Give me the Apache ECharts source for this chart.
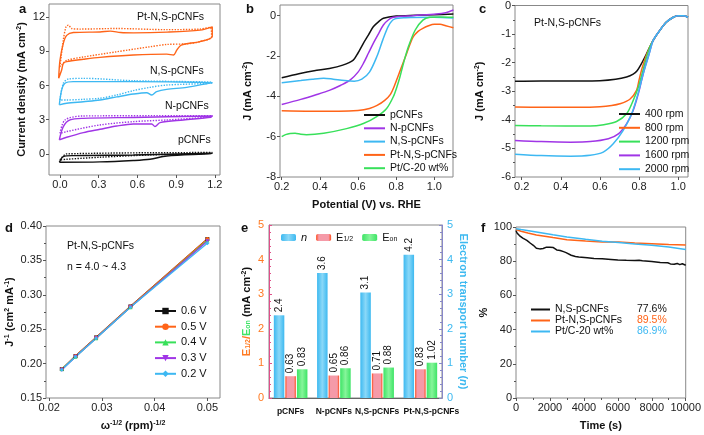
<!DOCTYPE html>
<html>
<head>
<meta charset="utf-8">
<script src="https://cdn.jsdelivr.net/npm/echarts@6/dist/echarts.min.js"></script>
<style>
html, body { margin: 0; padding: 0; background: #fff; }
#chart { width: 704px; height: 435px; }
</style>
</head>
<body>
<div id="chart"></div>
<script>
var cBlack = '#111111', cOrange = '#FF6418', cBlue = '#3DB8F2', cPurple = '#A035E6', cGreen = '#38E05A';
var font = 'Arial, "Liberation Sans", sans-serif';

// a: CV loops [potential (V), current density (mA cm-2)]
var cvPtSolid = [[-0.01,6.63],[0.0,8.2],[0.026,9.7],[0.052,10.4],[0.103,10.65],[0.31,10.7],[0.39,10.77],[0.47,10.65],[0.57,10.62],[0.83,10.68],[1.085,10.86],[1.18,11.15],[1.18,10.3],[1.085,9.85],[0.94,9.55],[0.905,9.1],[0.88,8.68],[0.827,8.75],[0.568,8.67],[0.31,8.47],[0.181,8.3],[0.052,8.1],[0.026,7.95],[0.013,7.36],[-0.01,6.63]];
var cvPtDotted = [[0.0,7.65],[0.026,10.0],[0.047,11.15],[0.065,11.3],[0.09,11.0],[0.155,10.95],[0.44,11.0],[0.827,10.9],[1.085,10.95],[1.165,11.1],[1.175,10.28],[1.085,9.85],[0.982,9.66],[0.827,9.6],[0.698,9.4],[0.44,8.96],[0.181,8.5],[0.052,8.2],[0.013,7.8],[0.0,7.65]];
var cvNSSolid = [[-0.005,4.3],[0.013,5.6],[0.039,6.2],[0.103,6.34],[0.568,6.34],[1.18,6.25],[1.16,6.22],[0.982,5.84],[0.827,5.66],[0.749,5.46],[0.711,5.17],[0.672,5.37],[0.568,5.25],[0.44,5.0],[0.31,4.73],[0.181,4.58],[0.052,4.44],[-0.005,4.3]];
var cvNSDotted = [[0.0,4.73],[0.026,6.2],[0.065,6.57],[0.181,6.63],[0.568,6.42],[1.18,6.28],[1.17,6.2],[0.827,6.04],[0.698,5.84],[0.568,5.55],[0.44,5.17],[0.31,4.88],[0.181,4.79],[0.052,4.73],[0.0,4.73]];
var cvNSolid = [[-0.005,1.23],[0.026,2.4],[0.078,2.98],[0.181,3.12],[0.568,3.2],[1.18,3.33],[1.17,3.22],[0.956,2.98],[0.775,2.74],[0.736,2.4],[0.711,2.63],[0.568,2.63],[0.44,2.45],[0.31,2.16],[0.181,1.87],[0.052,1.46],[-0.005,1.23]];
var cvNDotted = [[0.0,1.8],[0.039,2.98],[0.181,3.33],[1.18,3.36],[1.17,3.25],[0.827,2.98],[0.568,2.83],[0.31,2.54],[0.052,1.96],[0.0,1.8]];
var cvPSolid = [[-0.005,-0.73],[0.026,-0.23],[0.103,-0.15],[0.568,-0.09],[1.18,0.06],[1.17,0.0],[0.827,-0.18],[0.698,-0.47],[0.568,-0.58],[0.31,-0.7],[-0.005,-0.73]];
var cvPDotted = [[0.0,-0.53],[0.052,0.0],[1.18,0.12],[1.17,0.06],[0.698,-0.09],[0.31,-0.29],[0.052,-0.47],[0.0,-0.53]];
var cvTicksX = [0, 0.3, 0.6, 0.9, 1.2];
var cvTicksY = [0, 3, 6, 9, 12];

// b: LSV curves [potential (V), J]
var lsvNames = ['pCNFs', 'N-pCNFs', 'N,S-pCNFs', 'Pt-N,S-pCNFs', 'Pt/C-20 wt%'];
var lsvP = [[0.2,-3.08],[0.29,-2.88],[0.37,-2.73],[0.45,-2.62],[0.52,-2.45],[0.575,-2.2],[0.6,-1.85],[0.628,-1.37],[0.655,-0.95],[0.68,-0.55],[0.71,-0.28],[0.733,-0.13],[0.8,-0.02],[0.9,0.02],[1.0,0.05],[1.1,0.08]];
var lsvN = [[0.2,-4.4],[0.3,-4.15],[0.38,-3.92],[0.453,-3.69],[0.51,-3.45],[0.558,-3.2],[0.6,-2.8],[0.628,-2.37],[0.655,-1.85],[0.68,-1.37],[0.71,-0.85],[0.733,-0.46],[0.76,-0.2],[0.785,-0.08],[0.89,0.0],[1.01,0.08],[1.06,0.15],[1.1,0.28]];
var lsvNS = [[0.2,-3.33],[0.3,-3.22],[0.36,-3.15],[0.42,-3.1],[0.47,-3.15],[0.53,-3.22],[0.58,-3.25],[0.62,-3.15],[0.66,-2.8],[0.7,-2.0],[0.73,-1.2],[0.76,-0.5],[0.79,-0.17],[0.85,-0.1],[1.0,-0.08],[1.1,-0.12]];
var lsvPt = [[0.2,-4.72],[0.35,-4.74],[0.5,-4.74],[0.6,-4.7],[0.66,-4.6],[0.7,-4.45],[0.74,-4.2],[0.77,-3.9],[0.79,-3.5],[0.81,-3.0],[0.83,-2.5],[0.855,-1.87],[0.875,-1.35],[0.89,-1.04],[0.915,-0.78],[0.94,-0.63],[0.97,-0.5],[1.0,-0.43],[1.03,-0.43],[1.06,-0.5],[1.1,-0.6]];
var lsvPtC = [[0.2,-6.0],[0.22,-5.9],[0.244,-5.84],[0.27,-5.83],[0.3,-5.88],[0.33,-5.9],[0.42,-5.83],[0.54,-5.6],[0.628,-5.35],[0.698,-5.0],[0.75,-4.6],[0.785,-4.02],[0.805,-3.5],[0.82,-3.03],[0.838,-2.37],[0.864,-1.54],[0.9,-0.71],[0.94,-0.22],[0.977,-0.08],[1.03,-0.06],[1.1,-0.08]];
var lsvTicksX = [0.2, 0.4, 0.6, 0.8, 1.0];
var lsvTicksY = [-8, -6, -4, -2, 0];

// c: rotating speeds
var rpmNames = ['400 rpm', '800 rpm', '1200 rpm', '1600 rpm', '2000 rpm'];
var rpmTail = [[0.872,-1.22],[0.906,-0.87],[0.94,-0.58],[0.975,-0.41],[1.0,-0.36],[1.026,-0.36],[1.05,-0.41]];
var rpm400 = [[0.166,-2.65],[0.3,-2.64],[0.5,-2.64],[0.6,-2.63],[0.68,-2.58],[0.736,-2.5],[0.77,-2.4],[0.79,-2.28],[0.81,-2.06],[0.838,-1.69]];
var rpm800 = [[0.166,-3.55],[0.3,-3.56],[0.5,-3.56],[0.6,-3.54],[0.66,-3.5],[0.702,-3.44],[0.753,-3.28],[0.787,-2.97],[0.80,-2.6],[0.815,-2.2],[0.838,-1.72]];
var rpm1200 = [[0.166,-4.2],[0.3,-4.21],[0.55,-4.22],[0.62,-4.17],[0.685,-4.06],[0.736,-3.79],[0.77,-3.32],[0.796,-2.86],[0.813,-2.45],[0.838,-1.8],[0.855,-1.45]];
var rpm1600 = [[0.166,-4.72],[0.3,-4.76],[0.45,-4.78],[0.55,-4.76],[0.643,-4.66],[0.694,-4.49],[0.736,-4.14],[0.77,-3.67],[0.796,-3.09],[0.813,-2.62],[0.83,-2.16],[0.855,-1.6]];
var rpm2000 = [[0.166,-5.2],[0.3,-5.25],[0.45,-5.27],[0.55,-5.24],[0.617,-5.13],[0.668,-4.84],[0.719,-4.37],[0.762,-3.79],[0.796,-3.05],[0.821,-2.39],[0.847,-1.81]];
var rpmTicksX = [0.2, 0.4, 0.6, 0.8, 1.0];
var rpmTicksY = [-6, -5, -4, -3, -2, -1, 0];

// d: Koutecky-Levich
var klNames = ['0.6 V', '0.5 V', '0.4 V', '0.3 V', '0.2 V'];
var klX = [0.0224, 0.025, 0.0289, 0.0354, 0.05];
var kl06 = [0.192, 0.211, 0.238, 0.283, 0.381];
var kl05 = [0.192, 0.211, 0.238, 0.283, 0.381];
var kl04 = [0.192, 0.210, 0.237, 0.282, 0.379];
var kl03 = [0.191, 0.210, 0.237, 0.282, 0.378];
var kl02 = [0.191, 0.210, 0.237, 0.282, 0.375];
var klTicksX = [0.02, 0.03, 0.04, 0.05];
var klTicksY = [0.15, 0.20, 0.25, 0.30, 0.35, 0.40];

// e: bars
var catalysts = ['pCNFs', 'N-pCNFs', 'N,S-pCNFs', 'Pt-N,S-pCNFs'];
var nValues = [2.39, 3.61, 3.05, 4.14];
var nLabels = ['2.4', '3.6', '3.1', '4.2'];
var eHalf = [0.63, 0.65, 0.71, 0.83];
var eOnset = [0.83, 0.86, 0.88, 1.02];

// f: stability
var stabNames = ['N,S-pCNFs', 'Pt-N,S-pCNFs', 'Pt/C-20 wt%'];
var stabRetention = ['77.6%', '89.5%', '86.9%'];
var stabNS = [[0,98],[60,96.5],[200,95],[400,93.5],[640,92.2],[850,90.5],[1020,89.3],[1200,87.6],[1400,87.2],[1600,87.4],[1800,88.2],[2000,88.1],[2200,88.0],[2400,86.6],[2600,86.3],[2800,85.6],[2950,85],[3250,83.5],[3500,82.8],[3700,82.5],[4200,82.0],[4600,81.6],[5080,81.4],[5600,81.0],[6000,80.7],[6500,80.5],[7000,80.4],[7250,80.6],[7340,81.6],[7450,80.3],[8000,79.8],[8500,79.3],[8940,79.1],[9100,78.4],[9200,79.0],[9320,78.2],[9500,78.7],[9650,78.0],[9800,78.5],[10000,77.6]];
var stabPt = [[0,98.5],[300,97.5],[700,96.5],[1200,95.3],[2180,93.8],[3000,92.6],[4100,91.8],[5080,91.3],[6040,91.3],[7000,90.6],[8000,90.2],[9000,89.7],[10000,89.5]];
var stabPtC = [[0,99],[300,98.5],[1200,97.1],[2180,95.5],[3000,94.2],[4100,92.8],[5080,91.7],[6040,90.9],[7000,90.1],[8000,89.3],[9000,88.3],[10000,86.9]];
var stabTicksX = [0, 2000, 4000, 6000, 8000, 10000];
var stabTicksY = [0, 20, 40, 60, 80, 100];

var supRich = {
  sup: { fontSize: 7, fontWeight: 'bold', fontFamily: font, color: '#111', verticalAlign: 'top', lineHeight: 8 }
};
function nameStyle(extraRich) {
  return { fontSize: 11, fontWeight: 'bold', color: '#111', fontFamily: font, rich: Object.assign({}, supRich, extraRich || {}) };
}

// axis whose range is wider than its ticks: ticks given explicitly
function valueAxis(grid, min, max, ticks, digits, extra) {
  var ax = {
    type: 'value', gridIndex: grid, min: min, max: max,
    axisLine: { show: false, onZero: false },
    splitLine: { show: false },
    axisTick: { show: true, customValues: ticks, length: 3, lineStyle: { color: '#555' } },
    axisLabel: {
      customValues: ticks, fontSize: 11, color: '#222', fontFamily: font, margin: 4,
      formatter: function (v) { return digits == null ? String(v) : v.toFixed(digits); }
    }
  };
  return Object.assign(ax, extra || {});
}

// axis whose range ends on its first and last tick
function stepAxis(grid, ticks, digits, extra) {
  var ax = {
    type: 'value', gridIndex: grid, min: ticks[0], max: ticks[ticks.length - 1], interval: ticks[1] - ticks[0],
    axisLine: { show: false, onZero: false },
    splitLine: { show: false },
    axisTick: { show: true, length: 3, lineStyle: { color: '#555' } },
    minorTick: { show: true, splitNumber: 2, length: 2, lineStyle: { color: '#555' } },
    axisLabel: {
      fontSize: 11, color: '#222', fontFamily: font, margin: 4,
      formatter: function (v) { return v.toFixed(digits); }
    }
  };
  return Object.assign(ax, extra || {});
}

function lineSeries(name, x, y, data, color, dotted, width) {
  return {
    name: name, type: 'line', xAxisIndex: x, yAxisIndex: y, data: data,
    symbol: 'none', smooth: 0.3, animation: false,
    lineStyle: { color: color, width: width || 1.5, type: dotted ? 'dotted' : 'solid' },
    itemStyle: { color: color }
  };
}

function pairs(xs, ys) {
  return xs.map(function (v, i) { return [v, ys[i]]; });
}

function barGradient(edge, mid) {
  return new echarts.graphic.LinearGradient(0, 0, 1, 0, [
    { offset: 0, color: edge }, { offset: 0.5, color: mid }, { offset: 1, color: edge }
  ]);
}

var chart = echarts.init(document.getElementById('chart'));

var series = [
  lineSeries('a1', 0, 0, cvPtSolid, cOrange, false, 1.4),
  lineSeries('a2', 0, 0, cvPtDotted, cOrange, true, 1.4),
  lineSeries('a3', 0, 0, cvNSSolid, cBlue, false, 1.4),
  lineSeries('a4', 0, 0, cvNSDotted, cBlue, true, 1.4),
  lineSeries('a5', 0, 0, cvNSolid, cPurple, false, 1.4),
  lineSeries('a6', 0, 0, cvNDotted, cPurple, true, 1.4),
  lineSeries('a7', 0, 0, cvPSolid, cBlack, false, 1.4),
  lineSeries('a8', 0, 0, cvPDotted, cBlack, true, 1.4),

  lineSeries(lsvNames[0], 1, 1, lsvP, cBlack),
  lineSeries(lsvNames[1], 1, 1, lsvN, cPurple),
  lineSeries(lsvNames[2], 1, 1, lsvNS, cBlue),
  lineSeries(lsvNames[3], 1, 1, lsvPt, cOrange),
  lineSeries(lsvNames[4], 1, 1, lsvPtC, cGreen),

  lineSeries(rpmNames[0], 2, 2, rpm400.concat(rpmTail), cBlack),
  lineSeries(rpmNames[1], 2, 2, rpm800.concat(rpmTail), cOrange),
  lineSeries(rpmNames[2], 2, 2, rpm1200.concat(rpmTail), cGreen),
  lineSeries(rpmNames[3], 2, 2, rpm1600.concat(rpmTail), cPurple),
  lineSeries(rpmNames[4], 2, 2, rpm2000.concat(rpmTail), cBlue)
];

var klSets = [kl06, kl05, kl04, kl03, kl02];
var klColors = [cBlack, cOrange, cGreen, cPurple, cBlue];
var klSymbols = ['rect', 'circle', 'triangle', 'triangle', 'diamond'];
klSets.forEach(function (ys, i) {
  series.push({
    name: klNames[i], type: 'line', xAxisIndex: 3, yAxisIndex: 3, data: pairs(klX, ys),
    symbol: klSymbols[i], symbolSize: 4, symbolRotate: i === 3 ? 180 : 0, animation: false,
    lineStyle: { color: klColors[i], width: 1.3 }, itemStyle: { color: klColors[i] }
  });
});

var labelTop = { show: true, position: 'top', rotate: 90, align: 'left', verticalAlign: 'middle', distance: 3, fontSize: 10, color: '#111', fontFamily: font };
series.push({
  name: 'n', type: 'bar', xAxisIndex: 4, yAxisIndex: 5, data: nValues, barWidth: 10.5, barGap: '10%', animation: false,
  itemStyle: { color: barGradient('#3DB9F0', '#8AD8F8') },
  label: Object.assign({}, labelTop, { formatter: function (p) { return nLabels[p.dataIndex]; } })
});
series.push({
  name: 'E12', type: 'bar', xAxisIndex: 4, yAxisIndex: 4, data: eHalf, barWidth: 10.5, barGap: '10%', animation: false,
  itemStyle: { color: new echarts.graphic.LinearGradient(0, 0, 1, 0, [
    { offset: 0, color: '#FF4A1A' }, { offset: 0.18, color: '#F59AA8' }, { offset: 0.82, color: '#F59AA8' }, { offset: 1, color: '#FF4A1A' }
  ]) },
  label: Object.assign({}, labelTop, { formatter: function (p) { return p.value.toFixed(2); } })
});
series.push({
  name: 'Eon', type: 'bar', xAxisIndex: 4, yAxisIndex: 4, data: eOnset, barWidth: 10.5, barGap: '10%', animation: false,
  itemStyle: { color: barGradient('#3EE466', '#86F59A') },
  label: Object.assign({}, labelTop, { formatter: function (p) { return p.value.toFixed(2); } })
});

var stabSets = [stabNS, stabPt, stabPtC];
var stabColors = [cBlack, cOrange, cBlue];
stabSets.forEach(function (d, i) {
  var s = lineSeries('f:' + stabNames[i], 5, 6, d, stabColors[i], false, 1.5);
  s.smooth = false;
  series.push(s);
});

var legendText = { fontSize: 10.5, color: '#111', fontFamily: font };

var option = {
  backgroundColor: '#fff',
  animation: false,
  textStyle: { fontFamily: font },
  grid: [
    { left: 49, top: 4, width: 171, height: 171 },
    { left: 280, top: 5, width: 173, height: 172 },
    { left: 515, top: 5, width: 173, height: 172 },
    { left: 46, top: 226, width: 174, height: 172 },
    { left: 269, top: 225, width: 173, height: 173 },
    { left: 516, top: 227, width: 172, height: 171 }
  ].map(function (g) { return Object.assign(g, { show: true, borderColor: '#888', borderWidth: 1, backgroundColor: 'transparent' }); }),
  xAxis: [
    valueAxis(0, -0.085, 1.24, cvTicksX, 1),
    valueAxis(1, 0.191, 1.098, lsvTicksX, 1, {
      name: 'Potential (V) vs. RHE', nameLocation: 'middle', nameGap: 22, nameTextStyle: nameStyle()
    }),
    valueAxis(2, 0.166, 1.05, rpmTicksX, 1),
    valueAxis(3, 0.0194, 0.0524, klTicksX, 2, {
      name: 'ω{sup|-1/2} (rpm){sup|-1/2}', nameLocation: 'middle', nameGap: 22, nameTextStyle: nameStyle()
    }),
    {
      type: 'category', gridIndex: 4, data: catalysts,
      axisLine: { show: true, lineStyle: { color: '#666' } }, axisTick: { show: false },
      axisLabel: {
        interval: 0, fontSize: 8.5, fontWeight: 'bold', color: '#111', fontFamily: font, margin: 9,
        formatter: function (v, i) { return i === catalysts.length - 1 ? '{sh|' + v + '}' : v; },
        rich: { sh: { fontSize: 8.5, fontWeight: 'bold', color: '#111', fontFamily: font, padding: [0, 0, 0, 22] } }
      }
    },
    stepAxis(5, stabTicksX, 0, {
      name: 'Time (s)', nameLocation: 'middle', nameGap: 22, nameTextStyle: nameStyle()
    })
  ],
  yAxis: [
    valueAxis(0, -1.85, 13.15, cvTicksY, 0, {
      name: 'Current density (mA cm{sup|-2})', nameLocation: 'middle', nameRotate: 90, nameGap: 22, nameTextStyle: nameStyle()
    }),
    valueAxis(1, -8, 0.53, lsvTicksY, 0, {
      name: 'J (mA cm{sup|-2})', nameLocation: 'middle', nameRotate: 90, nameGap: 27, nameTextStyle: nameStyle()
    }),
    stepAxis(2, rpmTicksY, 0, {
      name: 'J (mA cm{sup|-2})', nameLocation: 'middle', nameRotate: 90, nameGap: 30, nameTextStyle: nameStyle()
    }),
    stepAxis(3, klTicksY, 2, {
      name: 'J{sup|-1} (cm{sup|2} mA{sup|-1})', nameLocation: 'middle', nameRotate: 90, nameGap: 31, nameTextStyle: nameStyle()
    }),
    {
      type: 'value', gridIndex: 4, min: 0, max: 5, interval: 1, position: 'left',
      axisLine: { show: true, onZero: false, lineStyle: { color: '#E0508A' } },
      axisTick: { show: true, inside: true, length: 3, lineStyle: { color: '#E0508A' } },
      minorTick: { show: true, splitNumber: 5, length: 2, lineStyle: { color: '#E0508A' } },
      splitLine: { show: false },
      axisLabel: { fontSize: 11, color: '#FF7A22', fontFamily: font, margin: 5 },
      name: '{o|E}{os|1/2}{o|/}{g|E}{gs|on}{k| (mA cm}{ks|-2}{k|)}', nameLocation: 'middle', nameRotate: 90, nameGap: 17,
      nameTextStyle: {
        fontSize: 11, fontWeight: 'bold', fontFamily: font,
        rich: {
          o: { fontSize: 11, fontWeight: 'bold', color: '#FF7A22', fontFamily: font },
          os: { fontSize: 7, fontWeight: 'bold', color: '#FF7A22', fontFamily: font, verticalAlign: 'bottom' },
          g: { fontSize: 11, fontWeight: 'bold', color: '#3EE466', fontFamily: font },
          gs: { fontSize: 7, fontWeight: 'bold', color: '#3EE466', fontFamily: font, verticalAlign: 'bottom' },
          k: { fontSize: 11, fontWeight: 'bold', color: '#111', fontFamily: font },
          ks: { fontSize: 7, fontWeight: 'bold', color: '#111', fontFamily: font, verticalAlign: 'top' }
        }
      }
    },
    {
      type: 'value', gridIndex: 4, min: 0, max: 5, interval: 1, position: 'right',
      axisLine: { show: true, onZero: false, lineStyle: { color: '#8888C8' } },
      axisTick: { show: true, inside: true, length: 3, lineStyle: { color: '#8888C8' } },
      minorTick: { show: true, splitNumber: 5, length: 2, lineStyle: { color: '#8888C8' } },
      splitLine: { show: false },
      axisLabel: { fontSize: 11, color: '#3DB9F0', fontFamily: font, margin: 5 },
      name: 'Electron transport number ({i|n})', nameLocation: 'middle', nameRotate: -90, nameGap: 16,
      nameTextStyle: {
        fontSize: 11, fontWeight: 'bold', color: '#3DB9F0', fontFamily: font,
        rich: { i: { fontSize: 11, fontWeight: 'bold', fontStyle: 'italic', color: '#3DB9F0', fontFamily: font } }
      }
    },
    stepAxis(5, stabTicksY, 0, {
      name: '%', nameLocation: 'middle', nameRotate: 90, nameGap: 22, nameTextStyle: nameStyle()
    })
  ],
  legend: [
    {
      orient: 'vertical', left: 364, top: 109, padding: 0, icon: 'rect', itemWidth: 21, itemHeight: 2, itemGap: 1.3,
      data: lsvNames, textStyle: Object.assign({ lineHeight: 12 }, legendText), selectedMode: false
    },
    {
      orient: 'vertical', left: 619, top: 108, padding: 0, icon: 'rect', itemWidth: 21, itemHeight: 2, itemGap: 1.8,
      data: rpmNames, textStyle: Object.assign({ lineHeight: 12 }, legendText), selectedMode: false
    },
    {
      orient: 'vertical', left: 154, top: 305, padding: 0, itemWidth: 21, itemHeight: 8, itemGap: 3.7,
      data: klNames, textStyle: { lineHeight: 12, fontSize: 11, color: '#111', fontFamily: font }, selectedMode: false
    },
    {
      orient: 'horizontal', left: 281, top: 232, padding: 0, itemWidth: 15, itemHeight: 7, itemGap: 9,
      data: ['n', 'E12', 'Eon'], selectedMode: false,
      formatter: function (name) {
        return { n: '{it|n}', E12: '{t|E}{sub|1/2}', Eon: '{t|E}{sub|on}' }[name];
      },
      textStyle: {
        fontSize: 11, color: '#111', fontFamily: font,
        rich: {
          it: { fontSize: 11, fontStyle: 'italic', color: '#111', fontFamily: font },
          t: { fontSize: 11, color: '#111', fontFamily: font },
          sub: { fontSize: 7, color: '#111', fontFamily: font, verticalAlign: 'bottom' }
        }
      }
    },
    {
      orient: 'vertical', left: 531, top: 304, padding: 0, icon: 'rect', itemWidth: 19, itemHeight: 2, itemGap: 0,
      data: stabNames.map(function (n) { return 'f:' + n; }), selectedMode: false,
      formatter: function (name) {
        var i = stabNames.indexOf(name.slice(2));
        return '{nm|' + stabNames[i] + '}{p' + i + '|' + stabRetention[i] + '}';
      },
      textStyle: {
        fontSize: 10.5, color: '#111', fontFamily: font, lineHeight: 11,
        rich: {
          nm: { width: 82, fontSize: 10.5, color: '#111', fontFamily: font },
          p0: { fontSize: 10.5, color: cBlack, fontFamily: font },
          p1: { fontSize: 10.5, color: cOrange, fontFamily: font },
          p2: { fontSize: 10.5, color: cBlue, fontFamily: font }
        }
      }
    }
  ],
  graphic: [
    { type: 'text', left: 19, top: 3, style: { text: 'a', fontSize: 13, fontWeight: 'bold', fill: '#111', fontFamily: font } },
    { type: 'text', left: 246, top: 3, style: { text: 'b', fontSize: 13, fontWeight: 'bold', fill: '#111', fontFamily: font } },
    { type: 'text', left: 479, top: 3, style: { text: 'c', fontSize: 13, fontWeight: 'bold', fill: '#111', fontFamily: font } },
    { type: 'text', left: 5, top: 222, style: { text: 'd', fontSize: 13, fontWeight: 'bold', fill: '#111', fontFamily: font } },
    { type: 'text', left: 241, top: 222, style: { text: 'e', fontSize: 13, fontWeight: 'bold', fill: '#111', fontFamily: font } },
    { type: 'text', left: 481, top: 222, style: { text: 'f', fontSize: 13, fontWeight: 'bold', fill: '#111', fontFamily: font } },
    { type: 'text', left: 137, top: 12, style: { text: 'Pt-N,S-pCNFs', fontSize: 10.5, fill: '#111', fontFamily: font } },
    { type: 'text', left: 150, top: 66, style: { text: 'N,S-pCNFs', fontSize: 10.5, fill: '#111', fontFamily: font } },
    { type: 'text', left: 165, top: 101, style: { text: 'N-pCNFs', fontSize: 10.5, fill: '#111', fontFamily: font } },
    { type: 'text', left: 178, top: 135, style: { text: 'pCNFs', fontSize: 10.5, fill: '#111', fontFamily: font } },
    { type: 'text', left: 534, top: 18, style: { text: 'Pt-N,S-pCNFs', fontSize: 10.5, fill: '#111', fontFamily: font } },
    { type: 'text', left: 67, top: 241, style: { text: 'Pt-N,S-pCNFs', fontSize: 10.5, fill: '#111', fontFamily: font } },
    { type: 'text', left: 67, top: 262, style: { text: 'n = 4.0 ~ 4.3', fontSize: 10.5, fill: '#111', fontFamily: font } }
  ],
  series: series
};

chart.setOption(option);
</script>
</body>
</html>
